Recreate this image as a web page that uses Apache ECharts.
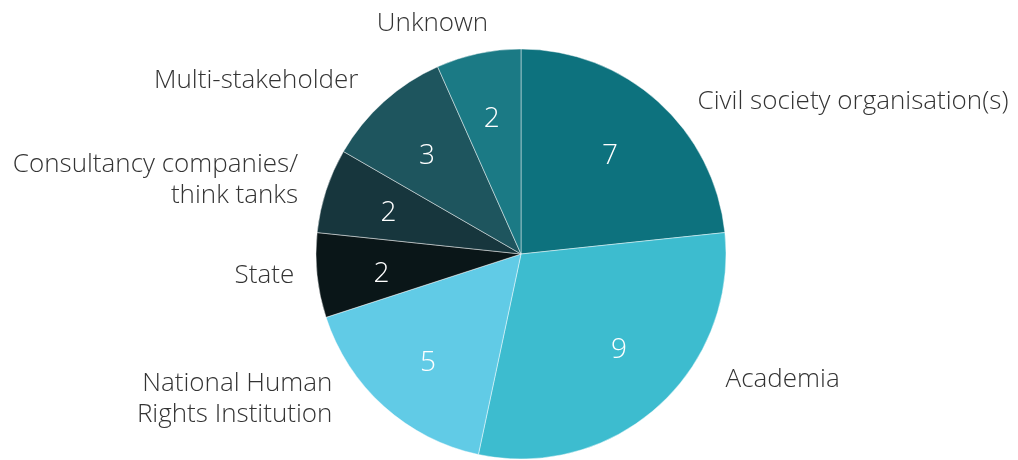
<!DOCTYPE html>
<html>
<head>
<meta charset="utf-8">
<script src="https://cdn.jsdelivr.net/npm/echarts@6/dist/echarts.min.js"></script>
<style>
  html, body { margin: 0; padding: 0; background: #fff; }
  #chart { width: 1018px; height: 460px; }
</style>
</head>
<body>
<div id="chart"></div>
<script>
const categories = [
  "Civil society organisation(s)",
  "Academia",
  "National Human\nRights Institution",
  "State",
  "Consultancy companies/\nthink tanks",
  "Multi-stakeholder",
  "Unknown"
];
const counts = [7, 9, 5, 2, 2, 3, 2];
const colors = ["#0d727e", "#3dbccf", "#61cbe6", "#0a1618", "#17363d", "#1e555e", "#1b7a85"];

// 标签微调（像素偏移）
const labelShift = [[11, 15], [39, -42], [-23, -22], [12, -2], [6, -4], [3, -6], [29, -10]];
const numberShift = [[-5, 6], [4, -8], [1, 5], [0, 5], [1, 2], [0, 6], [0, 2]];

const myChart = echarts.init(document.getElementById("chart"));

const fontFamily = "'Open Sans', 'Noto Sans', sans-serif";
const center = [521, 254];
const radius = 205;

const pieData = categories.map((name, i) => ({
  name: name,
  value: counts[i],
  itemStyle: { color: colors[i] }
}));

const options = {
  animation: false,
  series: [
    // 饼图本体 + 外部名称
    {
      type: "pie",
      center: center,
      radius: [0, radius],
      startAngle: 90,
      clockwise: true,
      silent: true,
      itemStyle: {
        borderColor: "rgba(255,255,255,0.45)",
        borderWidth: 1
      },
      label: {
        show: true,
        position: "outside",
        color: "#333333",
        fontFamily: fontFamily,
        fontWeight: 300,
        fontSize: 26,
        lineHeight: 31,
        overflow: "none",
        edgeDistance: 0,
        formatter: "{b}"
      },
      labelLine: { show: false, length: 20, length2: 10 },
      labelLayout: (params) => {
        const s = labelShift[params.dataIndex];
        return { dx: s[0], dy: s[1] };
      },
      data: pieData
    },
    // 内部数字
    {
      type: "pie",
      center: center,
      radius: [0, radius * 1.34],
      startAngle: 90,
      clockwise: true,
      silent: true,
      itemStyle: { color: "transparent" },
      label: {
        show: true,
        position: "inside",
        color: "#ffffff",
        fontFamily: fontFamily,
        fontWeight: 300,
        fontSize: 28,
        formatter: "{c}"
      },
      labelLine: { show: false },
      labelLayout: (params) => {
        const s = numberShift[params.dataIndex];
        return { dx: s[0], dy: s[1] };
      },
      data: categories.map((name, i) => ({ name: name, value: counts[i] }))
    }
  ]
};
myChart.setOption(options);
</script>
</body>
</html>
